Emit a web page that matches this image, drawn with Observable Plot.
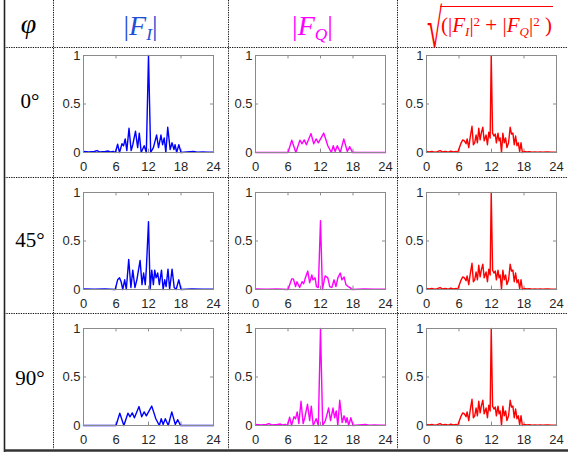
<!DOCTYPE html>
<html><head><meta charset="utf-8">
<script src="https://cdn.jsdelivr.net/npm/d3@7"></script>
<script src="https://cdn.jsdelivr.net/npm/@observablehq/plot@0.6"></script>
<style>
html,body{margin:0;padding:0;background:#fff;}
#wrap{position:relative;width:568px;height:455px;overflow:hidden;background:#fff;}
.hdr{position:absolute;font-family:"Liberation Serif","DejaVu Serif",serif;white-space:nowrap;line-height:1;}
.sb{font-size:0.62em;font-style:italic;position:relative;top:0.3em;}
.sp{font-size:0.62em;position:relative;top:-0.45em;}
</style></head><body><div id="wrap"></div>
<script>
// ---- data ----
const phiLabels = ["0°", "45°", "90°"];
const xTicks = [0, 6, 12, 18, 24];
const yTicks = [0, 0.5, 1];
const innerXTicks = [6, 12, 18];
const innerYTicks = [0.5];

// |F_I| at 0° (also |F_Q| at 90°)
const peakX = [0,1,2,2.5,3,4,4.6,5,5.5,5.9, 6.3,6.65,7.1,7.4,7.7,8.0,8.4,8.8,9.1,9.6, 10.0,10.3,10.65,11.2,11.6,12.0,12.4,12.9,13.5,13.85, 14.3,14.6,14.9,15.2,15.55,16.0,16.35,16.7,16.9,17.2, 17.6,18.0,19.1,20.3,21,22,23,24];
const peakY = [0.01,0.005,0.01,0.02,0.005,0.01,0.015,0.005,0.012,0.0, 0.085,0.0,0.09,0.07,0.14,0.02,0.25,0.02,0.08,0.22, 0.05,0.2,0.0,0.07,0.0,1.0,0.0,0.05,0.18,0.05, 0.18,0.08,0.15,0.0,0.26,0.03,0.1,0.03,0.08,0.0, 0.08,0.0,0.005,0.01,0.003,0.005,0.002,0.003];

// |F_Q| at 0° (also |F_I| at 90°)
const flatX = [0,6.0,6.7,7.45,8.2,8.6,9.0,9.4,10.25,10.75, 11.2,11.6,12.6,13.35,14.0,14.35,14.7,15.1,15.65,16.3, 16.95,17.4,17.9,24];
const flatY = [0,0,0.127,0,0.127,0.09,0.13,0.08,0.195,0.09, 0.14,0.10,0.2,0.07,0,0.07,0.01,0.07,0,0.14, 0.01,0.06,0,0];

// |F_I| at 45°
const fi45X = [0,2,4,5.85, 6.3,6.65,6.95,7.25,7.6,7.9,8.35,8.75,9.1,9.5, 9.85,10.45,10.8,11.1,11.4,11.6,12.0,12.3,12.6,12.9, 13.15,13.4,13.7,14.0,14.4,14.7,15.0,15.25,15.6,15.9, 16.35,16.75,17.1,17.6,18.0, 20,22,24];
const fi45Y = [0.005,0.003,0.005,0, 0.1,0.12,0.08,0.0,0.1,0.0,0.31,0.02,0.2,0.02, 0.1,0.3,0.05,0.17,0.05,0.21,0.7,0.0,0.2,0.05, 0.2,0.12,0.17,0.05,0.2,0.0,0.1,0.03,0.21,0.0, 0.21,0.02,0.0,0.1,0.0, 0.005,0.003,0.004];

// |F_Q| at 45°
const fq45X = [0,2,4,6.0, 6.7,7.0,7.4,7.65,8.15,8.6,8.9,9.15,9.65,10.0, 10.4,10.6,11.0,11.25,11.6,12.0,12.35,12.85,13.35,13.7, 14.1,14.5,14.85,15.2,15.65,15.95,16.35,16.7,17.1,17.45, 17.8,20,22,24];
const fq45Y = [0.005,0.004,0.005,0, 0.11,0.11,0.03,0.08,0.02,0.08,0.06,0.11,0.19,0.07, 0.15,0.1,0.12,0.03,0.02,0.71,0.0,0.14,0.12,0.03, 0.02,0.1,0.03,0.12,0.17,0.1,0.13,0.05,0.03,0.02, 0.0,0.005,0.004,0.004];

// sqrt(|F_I|^2 + |F_Q|^2), identical for every phase
const magX = [0,0.5,1,1.5,2,2.5,3,3.5,4,4.5,5,5.5, 5.75,6.4,6.7,7.0,7.3,7.5,7.8,8.05,8.4,8.65, 8.9,9.15,9.4,9.65,9.9,10.15,10.4,10.65,11.0,11.25, 11.5,11.75,11.95,12.2,12.45,12.7,12.9,13.2,13.4,13.6, 13.85,14.1,14.35,14.6,14.85,15.15,15.45,15.7,15.95,16.2, 16.45,16.7,16.95,17.2,17.45,17.7,18.1, 18.5,19,19.5,20,20.5,21,21.5,22,22.5,23,23.5,24];
const magY = [0.01,0.005,0.01,0.003,0.008,0.02,0.005,0.012,0.004,0.015,0.006,0.01, 0.0,0.1,0.13,0.12,0.09,0.14,0.05,0.15,0.27,0.08, 0.1,0.18,0.1,0.25,0.13,0.21,0.26,0.12,0.18,0.08, 0.21,0.15,1.0,0.2,0.17,0.19,0.1,0.2,0.12,0.15, 0.0,0.2,0.1,0.15,0.05,0.1,0.26,0.19,0.2,0.08, 0.17,0.07,0.1,0.01,0.1,0.0,0.01, 0.005,0.008,0.003,0.006,0.004,0.007,0.003,0.005,0.006,0.003,0.004,0.003];

const colors = ["#0000ff", "#ff00ff", "#ff0000"];
const grid = [
  [[peakX, peakY], [flatX, flatY], [magX, magY]],
  [[fi45X, fi45Y], [fq45X, fq45Y], [magX, magY]],
  [[flatX, flatY], [peakX, peakY], [magX, magY]]
];

// ---- layout ----
const wrap = document.getElementById("wrap");
const colLeft = [83, 255, 426];
const rowTop = [55, 192, 328];
const FW = 130, FH = 97;

// table lines
const svg = d3.select(wrap).append("svg").attr("width", 568).attr("height", 455)
  .style("position", "absolute").style("left", 0).style("top", 0);
const dots = {stroke: "#111", "stroke-width": 1, "stroke-dasharray": "1.3,1.1"};
[53.5, 228.5, 397.5].forEach(x => {
  const l = svg.append("line").attr("x1", x).attr("x2", x).attr("y1", 0).attr("y2", 449);
  Object.entries(dots).forEach(([k, v]) => l.attr(k, v));
});
[47.5, 177.5, 313.5].forEach(y => {
  const l = svg.append("line").attr("x1", 4).attr("x2", 568).attr("y1", y).attr("y2", y);
  Object.entries(dots).forEach(([k, v]) => l.attr(k, v));
});
svg.append("line").attr("x1", 4.5).attr("x2", 4.5).attr("y1", 0).attr("y2", 452).attr("stroke", "#222").attr("stroke-width", 1.6);
svg.append("line").attr("x1", 4).attr("x2", 568).attr("y1", 450.5).attr("y2", 450.5).attr("stroke", "#333").attr("stroke-width", 2.6);
// radical sign of the third header (real text, horizontally condensed)
svg.append("text").text("√")
  .attr("transform", "translate(427,46.5) scale(0.5,1)")
  .attr("font-family", "DejaVu Sans").attr("font-weight", 200).attr("font-size", 55)
  .attr("fill", "#ff0000");

// panels
function panel(xs, ys, color, fx, fy) {
  const data = xs.map((x, i) => ({x, y: ys[i]}));
  const ml = 30, mr = 10, mt = 8, mb = 25;
  const tickCol = "#8a8a8a";
  const chart = Plot.plot({
    width: FW + ml + mr, height: FH + mt + mb,
    marginLeft: ml, marginRight: mr, marginTop: mt, marginBottom: mb,
    x: {domain: [0, 24], ticks: xTicks, tickSize: 0, tickPadding: 9, label: null, tickFormat: d => String(d)},
    y: {domain: [0, 1], ticks: yTicks, tickSize: 0, tickPadding: 3, label: null, tickFormat: d => String(d)},
    style: {fontFamily: "'Liberation Sans', Arial, sans-serif", fontSize: "13px", color: "#262626", background: "transparent", overflow: "visible"},
    marks: [
      Plot.ruleX(innerXTicks, {y1: 0, y2: 0.035, stroke: tickCol}),
      Plot.ruleX(innerXTicks, {y1: 1, y2: 0.965, stroke: tickCol}),
      Plot.ruleY(innerYTicks, {x1: 0, x2: 0.55, stroke: tickCol}),
      Plot.ruleY(innerYTicks, {x1: 24, x2: 23.45, stroke: tickCol}),
      Plot.line(data, {x: "x", y: "y", stroke: color, strokeWidth: 1.4}),
      Plot.frame({stroke: tickCol})
    ]
  });
  chart.style.position = "absolute";
  chart.style.left = (fx - ml) + "px";
  chart.style.top = (fy - mt) + "px";
  wrap.appendChild(chart);
}
grid.forEach((row, r) => row.forEach(([xs, ys], c) => panel(xs, ys, colors[c], colLeft[c], rowTop[r])));

// headers
function addHtml(html, style) {
  const d = document.createElement("div");
  d.className = "hdr";
  d.innerHTML = html;
  Object.assign(d.style, style);
  wrap.appendChild(d);
  return d;
}
addHtml("φ", {left: "4px", width: "49px", top: "10px", textAlign: "center", fontSize: "28px", fontStyle: "italic"});
addHtml("|<i>F</i><span class='sb'>I</span>|", {left: "53px", width: "175px", top: "12px", textAlign: "center", fontSize: "28px", color: "#1f4fd6"});
addHtml("|<i>F</i><span class='sb'>Q</span>|", {left: "228px", width: "169px", top: "12px", textAlign: "center", fontSize: "28px", color: "#ff00ff"});
addHtml(
  "<span style='display:inline-block;border-top:1.4px solid #ff0000;font-size:21px;padding:8px 1px 0 1px'>(|<i>F</i><span class='sb'>I</span>|<span class='sp'>2</span> + |<i>F</i><span class='sb'>Q</span>|<span class='sp'>2</span> )</span>",
  {left: "440px", top: "6px", color: "#ff0000"});
phiLabels.forEach((t, i) => addHtml(t, {left: "4px", width: "52px", top: [91, 230, 368][i] + "px", textAlign: "center", fontSize: "21px"}));
</script>
</body></html>
